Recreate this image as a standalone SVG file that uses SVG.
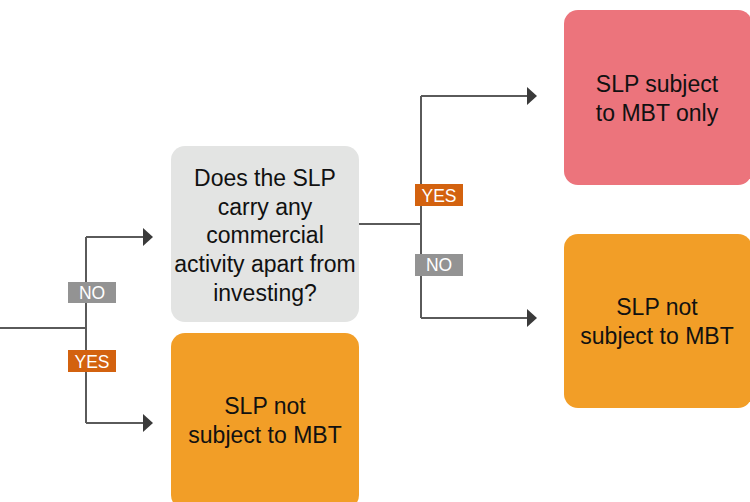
<svg xmlns="http://www.w3.org/2000/svg" width="750" height="502" viewBox="0 0 750 502">
  <defs>
    <style>
      .box-text { font-family: "Liberation Sans", Arial, sans-serif; font-size: 23px; fill: #111111; text-anchor: middle; }
      .tag-text { font-family: "Liberation Sans", Arial, sans-serif; font-size: 17.5px; fill: #ffffff; text-anchor: middle; }
      .wire { fill: none; stroke: #5a5a5a; stroke-width: 2; }
      .head { fill: #3a3a3a; }
      .tag-yes { fill: #d3620f; }
      .tag-no { fill: #939393; }
    </style>
  </defs>
  <rect width="750" height="502" fill="#ffffff"/>

  <!-- connectors -->
  <g id="connectors">
    <!-- left branch -->
    <path class="wire" d="M0 328 H86 M86 237 V423 M86 237 H145 M86 423 H145"/>
    <polygon class="head" points="143,228 153,237 143,246"/>
    <polygon class="head" points="143,414 153,423 143,432"/>
    <!-- right branch -->
    <path class="wire" d="M359 224 H421 M421 96 V318 M421 96 H529 M421 318 H529"/>
    <polygon class="head" points="527,87 537,96 527,105"/>
    <polygon class="head" points="527,309 537,318 527,327"/>
    <!-- branch tags -->
    <rect class="tag-no" x="68" y="282" width="48" height="21"/>
    <text class="tag-text" x="92" y="299">NO</text>
    <rect class="tag-yes" x="68" y="350" width="48" height="22"/>
    <text class="tag-text" x="92" y="368">YES</text>
    <rect class="tag-yes" x="415" y="184" width="48" height="22"/>
    <text class="tag-text" x="439" y="202">YES</text>
    <rect class="tag-no" x="415" y="254" width="48" height="22"/>
    <text class="tag-text" x="439" y="271">NO</text>
  </g>

  <!-- question node -->
  <g id="question">
    <rect x="171" y="146" width="188" height="176" rx="14" fill="#e3e4e3"/>
    <text class="box-text" x="265" y="186">Does the SLP</text>
    <text class="box-text" x="265" y="214.7">carry any</text>
    <text class="box-text" x="265" y="243.4">commercial</text>
    <text class="box-text" x="265" y="272.1">activity apart from</text>
    <text class="box-text" x="265" y="300.8">investing?</text>
  </g>

  <!-- outcome: subject to MBT only -->
  <g id="mbt-only">
    <rect x="564" y="10" width="188" height="175" rx="14" fill="#ec747c"/>
    <text class="box-text" x="657" y="92">SLP subject</text>
    <text class="box-text" x="657" y="120.5">to MBT only</text>
  </g>

  <!-- outcome: not subject (right) -->
  <g id="not-subject-right">
    <rect x="564" y="234" width="188" height="174" rx="14" fill="#f29e27"/>
    <text class="box-text" x="657" y="315">SLP not</text>
    <text class="box-text" x="657" y="343.5">subject to MBT</text>
  </g>

  <!-- outcome: not subject (left) -->
  <g id="not-subject-left">
    <rect x="171" y="333" width="188" height="176" rx="14" fill="#f29e27"/>
    <text class="box-text" x="265" y="414">SLP not</text>
    <text class="box-text" x="265" y="442.5">subject to MBT</text>
  </g>
</svg>
